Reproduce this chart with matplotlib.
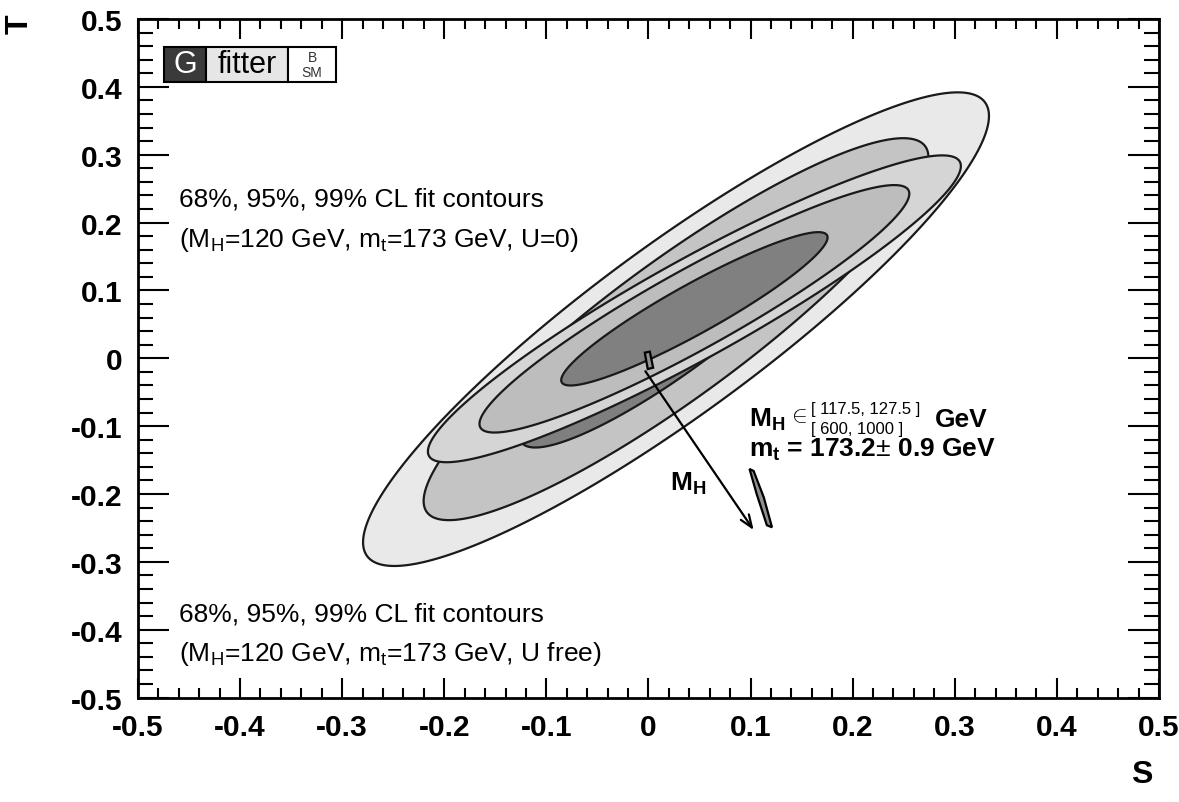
import numpy as np
import matplotlib
matplotlib.use("Agg")
import matplotlib.pyplot as plt
from matplotlib.patches import Rectangle
from matplotlib.ticker import MultipleLocator

plt.rcParams['font.family'] = ['Liberation Sans', 'DejaVu Sans']
plt.rcParams['mathtext.fontset'] = 'custom'
plt.rcParams['mathtext.rm'] = 'Liberation Sans'
plt.rcParams['mathtext.bf'] = 'Liberation Sans:bold'

# fit results (centre, sigma_S, sigma_T, correlation)
ufree_center = [0.027, 0.043]
ufree_sigma = [0.101, 0.115]
ufree_rho = 0.90
u0_center = [0.045, 0.073]
u0_sigma = [0.086, 0.0745]
u0_rho = 0.93

# 99%, 95%, 68% CL for 2 dof
cl_chi2 = [9.21, 5.99, 2.30]
ufree_colors = ['#e9e9e9', '#c4c4c4', '#7f7f7f']
u0_colors = ['#d5d5d5', '#bdbdbd', '#808080']

# SM prediction regions
sm_low_S = [-0.0036, 0.0013, 0.0046, -0.0007]
sm_low_T = [0.0084, 0.0099, -0.0138, -0.0158]
sm_high_S = [0.099, 0.103, 0.113, 0.121, 0.116, 0.106]
sm_high_T = [-0.163, -0.166, -0.205, -0.249, -0.246, -0.200]

arrow_start = [-0.003, -0.019]
arrow_end = [0.103, -0.253]


def ellipse(center, sigma, rho, chi2, n=400):
    th = np.linspace(0, 2 * np.pi, n)
    k = np.sqrt(chi2)
    s = center[0] + k * sigma[0] * np.cos(th)
    t = center[1] + k * sigma[1] * (rho * np.cos(th) + np.sqrt(1 - rho**2) * np.sin(th))
    return s, t


fig = plt.figure(figsize=(11.79, 8.03), dpi=100)
ax = fig.add_axes([0.117, 0.13, 0.866, 0.845])

for chi2, col in zip(cl_chi2, ufree_colors):
    s, t = ellipse(ufree_center, ufree_sigma, ufree_rho, chi2)
    ax.fill(s, t, facecolor=col, edgecolor='#1a1a1a', linewidth=1.6, zorder=2)
for chi2, col in zip(cl_chi2, u0_colors):
    s, t = ellipse(u0_center, u0_sigma, u0_rho, chi2)
    ax.fill(s, t, facecolor=col, edgecolor='#1a1a1a', linewidth=1.6, zorder=3)

ax.fill(sm_low_S, sm_low_T, facecolor='#909090', edgecolor='black', linewidth=1.6, zorder=4)
ax.fill(sm_high_S, sm_high_T, facecolor='#909090', edgecolor='black', linewidth=1.6, zorder=4)

ax.annotate('', xy=arrow_end, xytext=arrow_start,
            arrowprops=dict(arrowstyle='->,head_length=0.9,head_width=0.35',
                            color='black', lw=1.6, shrinkA=0, shrinkB=0), zorder=5)
ax.text(0.039, -0.183, r'$\mathbf{M_{H}}$', fontsize=19, ha='center', va='center', zorder=5)

# labels
ax.text(0.098, -0.089, r'$\mathbf{M_{H}}$', fontsize=19, fontweight='bold',
        ha='left', va='center', zorder=5)
ax.text(0.136, -0.084, r'$\in$', fontsize=17, ha='left', va='center', zorder=5)
ax.text(0.159, -0.074, '[ 117.5, 127.5 ]', fontsize=12, ha='left', va='center', zorder=5)
ax.text(0.159, -0.1035, '[ 600, 1000 ]', fontsize=12, ha='left', va='center', zorder=5)
ax.text(0.281, -0.089, 'GeV', fontsize=19, fontweight='bold', ha='left', va='center', zorder=5)
ax.text(0.098, -0.134, r'$\mathbf{m_{t}}$ = 173.2$\pm$ 0.9 GeV', fontsize=19,
        fontweight='bold', ha='left', va='center', zorder=5)

ax.text(-0.46, 0.236, '68%, 95%, 99% CL fit contours', fontsize=19, ha='left', va='center')
ax.text(-0.46, 0.176, r'(M$_{\mathrm{H}}$=120 GeV, m$_{\mathrm{t}}$=173 GeV, U=0)',
        fontsize=19, ha='left', va='center')
ax.text(-0.46, -0.376, '68%, 95%, 99% CL fit contours', fontsize=19, ha='left', va='center')
ax.text(-0.46, -0.434, r'(M$_{\mathrm{H}}$=120 GeV, m$_{\mathrm{t}}$=173 GeV, U free)',
        fontsize=19, ha='left', va='center')

# Gfitter logo
logo_y, logo_h = 0.908, 0.051
ax.add_patch(Rectangle((0.026, logo_y), 0.041, logo_h, transform=ax.transAxes,
                       facecolor='#3a3a3a', edgecolor='black', lw=1.5, zorder=6))
ax.add_patch(Rectangle((0.067, logo_y), 0.080, logo_h, transform=ax.transAxes,
                       facecolor='#e6e6e6', edgecolor='black', lw=1.5, zorder=6))
ax.add_patch(Rectangle((0.147, logo_y), 0.047, logo_h, transform=ax.transAxes,
                       facecolor='white', edgecolor='black', lw=1.5, zorder=6))
ax.text(0.0465, logo_y + logo_h / 2, 'G', color='white', fontsize=22,
        ha='center', va='center', transform=ax.transAxes, zorder=7)
ax.text(0.107, logo_y + logo_h / 2, 'fitter', color='black', fontsize=22,
        ha='center', va='center', transform=ax.transAxes, zorder=7)
ax.text(0.1705, logo_y + logo_h * 0.72, 'B', color='#333333', fontsize=10,
        ha='center', va='center', transform=ax.transAxes, zorder=7)
ax.text(0.1705, logo_y + logo_h * 0.28, 'SM', color='#333333', fontsize=10,
        ha='center', va='center', transform=ax.transAxes, zorder=7)

ax.set_xlim(-0.5, 0.5)
ax.set_ylim(-0.5, 0.5)
ax.xaxis.set_major_locator(MultipleLocator(0.1))
ax.xaxis.set_minor_locator(MultipleLocator(0.02))
ax.yaxis.set_major_locator(MultipleLocator(0.1))
ax.yaxis.set_minor_locator(MultipleLocator(0.02))
ax.tick_params(which='both', direction='in', top=True, right=True, width=1.5,
               labelsize=21.5)
ax.tick_params(axis='x', which='major', length=14.5, pad=11)
ax.tick_params(axis='x', which='minor', length=7.2)
ax.tick_params(axis='y', which='major', length=22, pad=11)
ax.tick_params(axis='y', which='minor', length=11)
fmt = lambda v, p: '0' if abs(v) < 1e-9 else f'{v:.1f}'
ax.xaxis.set_major_formatter(plt.FuncFormatter(fmt))
ax.yaxis.set_major_formatter(plt.FuncFormatter(fmt))
for lab in ax.get_xticklabels() + ax.get_yticklabels():
    lab.set_fontweight('bold')
for sp in ax.spines.values():
    sp.set_linewidth(2)

fig.text(0.017, 0.97, 'T', fontsize=23, fontweight='bold', rotation=90,
         ha='center', va='center')
fig.text(0.968, 0.035, 'S', fontsize=23, fontweight='bold', ha='center', va='center')

fig.savefig('out.png', dpi=100, facecolor='white')
